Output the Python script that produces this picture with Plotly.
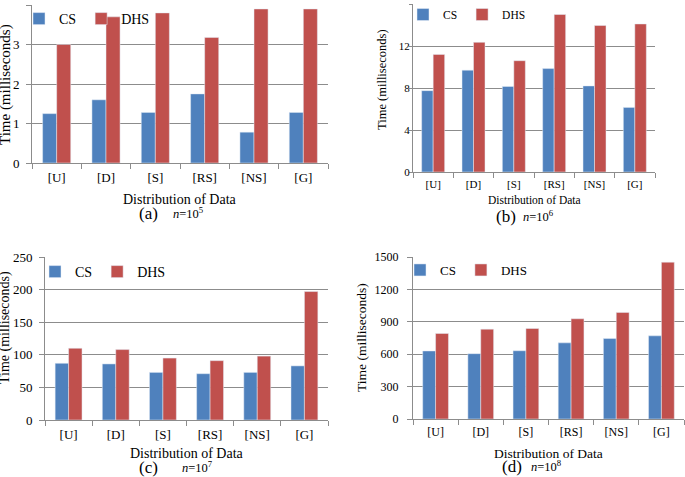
import plotly.graph_objects as go

categories = ["[U]", "[D]", "[S]", "[RS]", "[NS]", "[G]"]

cs_a = [1.25, 1.60, 1.28, 1.75, 0.78, 1.28]
dhs_a = [3.00, 3.70, 3.80, 3.18, 3.90, 3.90]

cs_b = [7.75, 9.70, 8.15, 9.85, 8.20, 6.15]
dhs_b = [11.2, 12.35, 10.6, 15.0, 13.95, 14.1]

cs_c = [87, 86, 73, 71, 73, 83]
dhs_c = [110, 108, 95, 91, 98, 197]

cs_d = [630, 605, 632, 705, 745, 770]
dhs_d = [792, 832, 838, 928, 987, 1452]

y_ranges = [[0, 4], [0, 16], [0, 250], [0, 1500]]
y_dticks = [1, 4, 50, 300]
panel_letters = ["(a)", "(b)", "(c)", "(d)"]
panel_n = ["10<sup>5</sup>", "10<sup>6</sup>", "10<sup>7</sup>", "10<sup>8</sup>"]

CS_COLOR = "#4F81BD"
DHS_COLOR = "#C0504D"
GRID = "#8C8C8C"
FONT = "Liberation Serif"

W, H = 685, 477

def px_x(v):
    return v / W

def px_y(v):
    return 1 - v / H

# plot areas in pixels: (left, right, top, bottom)
areas = [
    (32, 328, 5, 163),
    (413, 655, 4, 172),
    (45, 328, 257, 420),
    (413, 684, 257, 419),
]
tick_fonts = [13, 11, 13, 12]
xtitle_fonts = [14, 11.5, 14, 13.5]
ytitle_fonts = [15, 12.5, 14, 13.5]
legend_fonts = [14, 11.5, 14, 13]
ytitle_pos = [(5, 85), (382, 80), (5, 328), (361, 337)]
ticklens = [5, 3, 5, 5]
standoffs = [4, -3, 4, 6]
legend_pos = [(19, 3), (403, 0), (35, 256), (400, 255)]
xtitle_y = [199, 200, 453, 453]
letter_pos = [((148, 213), (188, 213)), ((506, 216), (538, 216)),
              ((148, 467), (197, 467)), ((512, 466), (546, 466))]
letter_sizes = [17, 17, 17, 17]

data = [(cs_a, dhs_a), (cs_b, dhs_b), (cs_c, dhs_c), (cs_d, dhs_d)]

fig = go.Figure()
annotations = []
layout_extra = {}
for i, ((cs, dhs), (l, r, t, b)) in enumerate(zip(data, areas)):
    k = "" if i == 0 else str(i + 1)
    xa, ya = "x" + k, "y" + k
    leg = "legend" + k
    fig.add_trace(go.Bar(x=categories, y=cs, name="CS", marker_color=CS_COLOR,
                         xaxis=xa, yaxis=ya, legend=leg))
    fig.add_trace(go.Bar(x=categories, y=dhs, name="DHS", marker_color=DHS_COLOR,
                         xaxis=xa, yaxis=ya, legend=leg))
    layout_extra["xaxis" + k] = dict(
        domain=[px_x(l), px_x(r)], anchor=ya, automargin=False,
        showline=True, linecolor=GRID, linewidth=1,
        ticks="outside", tickson="boundaries", ticklen=5, tickcolor=GRID,
        ticklabelstandoff=2,
        tickfont=dict(family=FONT, size=tick_fonts[i], color="#000"),
        showgrid=False, fixedrange=True,
    )
    layout_extra["yaxis" + k] = dict(
        domain=[px_y(b), px_y(t)], anchor=xa, automargin=False,
        range=y_ranges[i], dtick=y_dticks[i],
        showline=True, linecolor=GRID, linewidth=1,
        ticks="outside", ticklen=ticklens[i], tickcolor=GRID,
        ticklabelstandoff=standoffs[i],
        showgrid=True, gridcolor=GRID, gridwidth=1,
        zeroline=False,
        tickfont=dict(family=FONT, size=tick_fonts[i], color="#000"),
        fixedrange=True,
    )
    layout_extra[leg] = dict(
        x=px_x(legend_pos[i][0]), y=px_y(legend_pos[i][1]),
        xanchor="left", yanchor="top", orientation="h",
        bgcolor="rgba(0,0,0,0)",
        font=dict(family=FONT, size=legend_fonts[i], color="#000"),
        itemwidth=30, tracegroupgap=0,
    )
    # x-axis title
    annotations.append(dict(
        text="Distribution of Data", xref="paper", yref="paper",
        x=px_x((l + r) / 2), y=px_y(xtitle_y[i]), xanchor="center", yanchor="middle",
        showarrow=False, bgcolor="rgba(0,0,0,0)",
        font=dict(family=FONT, size=xtitle_fonts[i], color="#000"),
    ))
    # y-axis title
    annotations.append(dict(
        text="Time (milliseconds)", xref="paper", yref="paper",
        x=px_x(ytitle_pos[i][0]), y=px_y(ytitle_pos[i][1]),
        xanchor="center", yanchor="middle",
        textangle=-90, showarrow=False, bgcolor="rgba(0,0,0,0)",
        font=dict(family=FONT, size=ytitle_fonts[i], color="#000"),
    ))
    (lx, ly), (nx, ny) = letter_pos[i]
    annotations.append(dict(
        text=panel_letters[i], xref="paper", yref="paper",
        x=px_x(lx), y=px_y(ly), xanchor="center", yanchor="middle",
        showarrow=False, bgcolor="rgba(0,0,0,0)",
        font=dict(family=FONT, size=letter_sizes[i], color="#000"),
    ))
    annotations.append(dict(
        text="<i>n</i>=" + panel_n[i], xref="paper", yref="paper",
        x=px_x(nx), y=px_y(ny), xanchor="center", yanchor="middle",
        showarrow=False, bgcolor="rgba(0,0,0,0)",
        font=dict(family=FONT, size=12.5, color="#000"),
    ))

fig.update_layout(
    width=W, height=H,
    margin=dict(l=0, r=0, t=0, b=0, autoexpand=False),
    paper_bgcolor="white", plot_bgcolor="white",
    barmode="group", bargap=0.43, bargroupgap=0,
    annotations=annotations,
    font=dict(family=FONT, color="#000"),
    **layout_extra,
)

fig.write_html("out.html", config={"displayModeBar": False},
               post_script="document.body.style.margin='0px';")
